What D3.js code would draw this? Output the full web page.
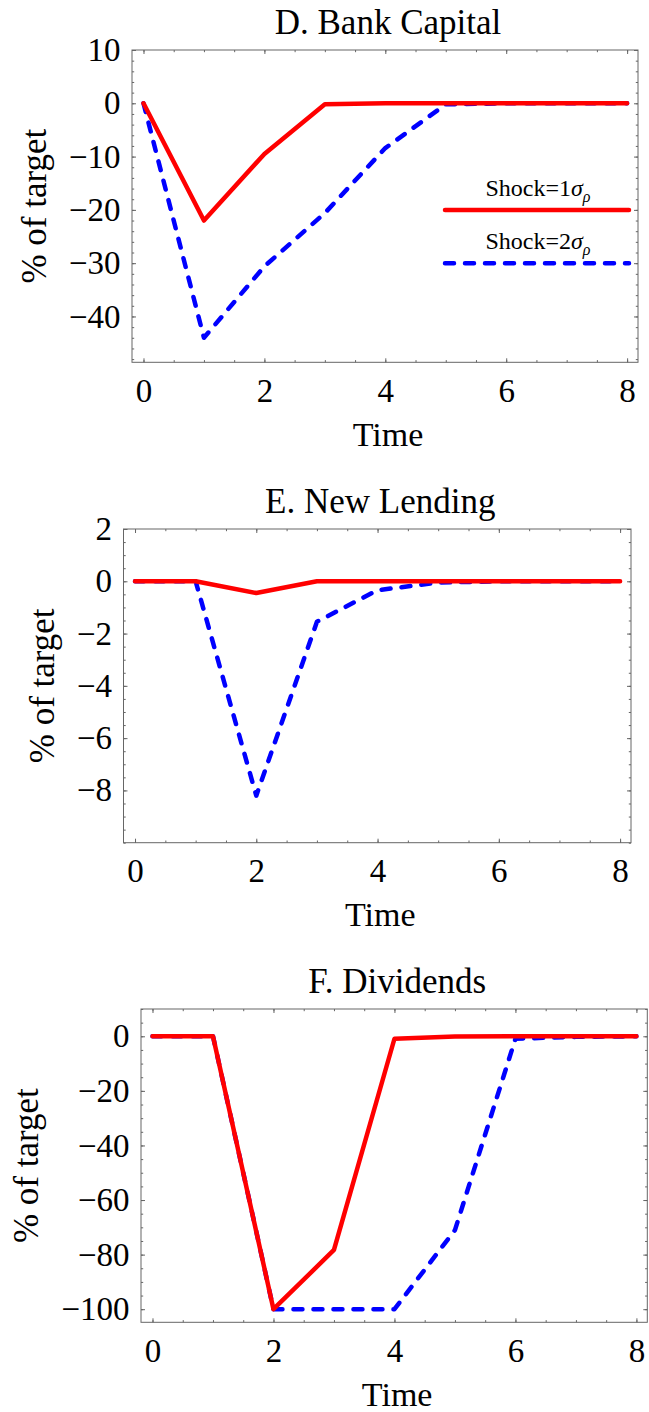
<!DOCTYPE html>
<meta charset="utf-8">
<style>
  body {
    margin: 0;
    background-color: white;
  }

  .frame {
    fill: none;
    stroke: #666;
    stroke-width: 1px;
  }

  .axis line {
    stroke: #666;
  }

  .axis text {
    fill: #000;
  }

  .serie {
    fill: none;
    stroke-width: 4.5px;
    stroke-linecap: round;
    stroke-linejoin: round;
  }

  .shock1 {
    stroke: #ff0000;
  }

  .shock2 {
    stroke: #0000ff;
    stroke-dasharray: 9, 11;
  }

  text {
    font-family: "Liberation Serif", "Times New Roman", serif;
  }
</style>
<svg width="649" height="1412"></svg>
<script src="https://d3js.org/d3.v7.min.js"></script>
<script>
  // periods after the shock
  var time = [0, 1, 2, 3, 4, 5, 6, 7, 8];

  // D. bank capital, % of target
  var capital1 = [0, -22, -9.5, -0.2, 0, 0, 0, 0, 0];
  var capital2 = [0, -44, -30.6, -20.6, -8.4, -0.2, 0, 0, 0];

  // E. new lending
  var lending1 = [0, 0, -0.45, 0, 0, 0, 0, 0, 0];
  var lending2 = [0, 0, -8.2, -1.55, -0.34, -0.05, 0, 0, 0];

  // F. dividends
  var dividends1 = [0, 0, -100, -78.3, -0.9, -0.1, 0, 0, 0];
  var dividends2 = [0, 0, -100, -100, -100, -71, -0.9, -0.2, 0];

  var timeTicks = [0, 2, 4, 6, 8];
  var capitalTicks = [10, 0, -10, -20, -30, -40];
  var lendingTicks = [2, 0, -2, -4, -6, -8];
  var dividendTicks = [0, -20, -40, -60, -80, -100];

  var titles = ["D. Bank Capital", "E. New Lending", "F. Dividends"];

  var panels = [
    { title: titles[0], s1: capital1, s2: capital2, ticks: capitalTicks, minor: 2,
      ydom: [-48.6, 10], left: 132, right: 638, top: 50, bottom: 362.3, labelX: 46, legend: true },
    { title: titles[1], s1: lending1, s2: lending2, ticks: lendingTicks, minor: 0.5,
      ydom: [-10, 2], left: 123.5, right: 631, top: 529, bottom: 842.7, labelX: 54 },
    { title: titles[2], s1: dividends1, s2: dividends2, ticks: dividendTicks, minor: 5,
      ydom: [-104.8, 10], left: 141, right: 647.3, top: 1009, bottom: 1322.3, labelX: 38 }
  ];

  var svg = d3.select("svg");
  var fmt = d3.format("d");

  panels.forEach(function(p) {
    var g = svg.append("g");

    var x = d3.scaleLinear().domain([-0.19, 8.18]).range([p.left, p.right]);
    var y = d3.scaleLinear().domain(p.ydom).range([p.bottom, p.top]);

    var xMinor = d3.range(0, 8.01, 0.5);
    var yMinor = d3.range(Math.ceil(p.ydom[0] / p.minor) * p.minor, p.ydom[1] + 1e-9, p.minor);

    // minor ticks on all four sides
    g.append("g").attr("class", "axis").attr("transform", "translate(0," + p.bottom + ")")
      .call(d3.axisBottom(x).tickValues(xMinor).tickSize(-2.2).tickFormat(""));
    g.append("g").attr("class", "axis").attr("transform", "translate(0," + p.top + ")")
      .call(d3.axisTop(x).tickValues(xMinor).tickSize(-2.2).tickFormat(""));
    g.append("g").attr("class", "axis").attr("transform", "translate(" + p.left + ",0)")
      .call(d3.axisLeft(y).tickValues(yMinor).tickSize(-2.2).tickFormat(""));
    g.append("g").attr("class", "axis").attr("transform", "translate(" + p.right + ",0)")
      .call(d3.axisRight(y).tickValues(yMinor).tickSize(-2.2).tickFormat(""));

    // major ticks with labels
    g.append("g").attr("class", "axis").attr("transform", "translate(0," + p.bottom + ")")
      .call(d3.axisBottom(x).tickValues(timeTicks).tickSize(-4).tickPadding(16).tickFormat(fmt))
      .attr("font-family", null).attr("font-size", 33);
    g.append("g").attr("class", "axis").attr("transform", "translate(0," + p.top + ")")
      .call(d3.axisTop(x).tickValues(timeTicks).tickSize(-4).tickFormat(""));
    g.append("g").attr("class", "axis").attr("transform", "translate(" + p.left + ",0)")
      .call(d3.axisLeft(y).tickValues(p.ticks).tickSize(-4).tickPadding(11.5).tickFormat(fmt))
      .attr("font-family", null).attr("font-size", 33);
    g.append("g").attr("class", "axis").attr("transform", "translate(" + p.right + ",0)")
      .call(d3.axisRight(y).tickValues(p.ticks).tickSize(-4).tickFormat(""));

    g.selectAll(".domain").remove();

    g.append("rect")
      .attr("class", "frame")
      .attr("x", p.left)
      .attr("y", p.top)
      .attr("width", p.right - p.left)
      .attr("height", p.bottom - p.top);

    var line = d3.line()
      .x(function(d, i) { return x(time[i]); })
      .y(function(d) { return y(d); });

    // blue first so the red line sits on top
    g.append("path").datum(p.s2).attr("class", "serie shock2").attr("d", line);
    g.append("path").datum(p.s1).attr("class", "serie shock1").attr("d", line);

    var cx = (p.left + p.right) / 2 + 3;

    g.append("text")
      .attr("x", cx)
      .attr("y", p.top - 16)
      .attr("text-anchor", "middle")
      .attr("font-size", 35)
      .text(p.title);

    g.append("text")
      .attr("x", cx)
      .attr("y", p.bottom + 83.5)
      .attr("text-anchor", "middle")
      .attr("font-size", 34)
      .text("Time");

    g.append("text")
      .attr("transform", "translate(" + p.labelX + "," + (p.top + p.bottom) / 2 + ") rotate(-90)")
      .attr("text-anchor", "middle")
      .attr("font-size", 35)
      .text("% of target");

    if (p.legend) {
      var leg = g.append("g");
      var items = [
        { n: "1", cls: "shock1", v: -20 },
        { n: "2", cls: "shock2", v: -30 }
      ];
      items.forEach(function(it) {
        leg.append("line")
          .attr("class", "serie " + it.cls)
          .attr("x1", 445).attr("x2", 629)
          .attr("y1", y(it.v)).attr("y2", y(it.v));
        var t = leg.append("text")
          .attr("x", 538)
          .attr("y", y(it.v) - 14)
          .attr("text-anchor", "middle")
          .attr("font-size", 24);
        t.append("tspan").text("Shock=" + it.n);
        t.append("tspan").attr("font-style", "italic").text("σ");
        t.append("tspan").attr("font-style", "italic").attr("font-size", 16).attr("dy", 6).text("ρ");
      });
    }
  });
</script>
